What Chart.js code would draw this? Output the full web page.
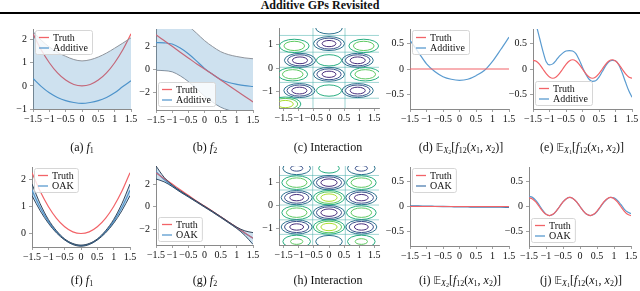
<!DOCTYPE html>
<html>
<head>
<meta charset="utf-8">
<script src="https://cdn.jsdelivr.net/npm/chart.js@4.4.1/dist/chart.umd.min.js"></script>
<style>
body { margin:0; width:640px; height:291px; background:#fff; position:relative; overflow:hidden; font-family:"Liberation Serif", serif; color:#111; }
#title { position:absolute; left:0; width:640px; top:0; text-align:center; font-weight:bold; font-size:12px; line-height:11px; }
#rule { position:absolute; left:0; top:12px; width:640px; height:0; border-top:2.5px solid #000; }
canvas { position:absolute; }
.cap { position:absolute; font-size:12px; white-space:nowrap; transform:translateX(-50%); line-height:12px; }
.cap sub { font-size:8px; vertical-align:-2px; line-height:0; }
.cap .ss { font-size:6px; vertical-align:-1px; }
.bb { font-family:"DejaVu Sans", sans-serif; font-size:10.5px; }
</style>
</head>
<body>
<div id="title">Additive GPs Revisited</div>
<div id="rule"></div>

<canvas id="pa"></canvas><canvas id="pb"></canvas><canvas id="pc"></canvas><canvas id="pd"></canvas><canvas id="pe"></canvas>
<canvas id="pf"></canvas><canvas id="pg"></canvas><canvas id="ph"></canvas><canvas id="pi"></canvas><canvas id="pj"></canvas>

<div class="cap" style="left:82px;top:141px">(a) <i>f</i><sub>1</sub></div>
<div class="cap" style="left:205px;top:141px">(b) <i>f</i><sub>2</sub></div>
<div class="cap" style="left:328px;top:141px">(c) Interaction</div>
<div class="cap" style="left:461px;top:141px">(d) <span class="bb">𝔼</span><sub><i>X</i><span class="ss">2</span></sub>[<i>f</i><sub>12</sub>(<i>x</i><sub>1</sub>, <i>x</i><sub>2</sub>)]</div>
<div class="cap" style="left:582px;top:141px">(e) <span class="bb">𝔼</span><sub><i>X</i><span class="ss">1</span></sub>[<i>f</i><sub>12</sub>(<i>x</i><sub>1</sub>, <i>x</i><sub>2</sub>)]</div>
<div class="cap" style="left:82px;top:274px">(f) <i>f</i><sub>1</sub></div>
<div class="cap" style="left:205px;top:274px">(g) <i>f</i><sub>2</sub></div>
<div class="cap" style="left:328px;top:274px">(h) Interaction</div>
<div class="cap" style="left:460px;top:274px">(i) <span class="bb">𝔼</span><sub><i>X</i><span class="ss">2</span></sub>[<i>f</i><sub>12</sub>(<i>x</i><sub>1</sub>, <i>x</i><sub>2</sub>)]</div>
<div class="cap" style="left:581px;top:274px">(j) <span class="bb">𝔼</span><sub><i>X</i><span class="ss">1</span></sub>[<i>f</i><sub>12</sub>(<i>x</i><sub>1</sub>, <i>x</i><sub>2</sub>)]</div>

<script>
// sample positions
const xGrid = [-1.5,-1.25,-1,-0.75,-0.5,-0.25,0,0.25,0.5,0.75,1,1.25,1.5];
const xFine = [-1.5,-1.4,-1.3,-1.2,-1.1,-1,-0.9,-0.8,-0.7,-0.6,-0.5,-0.4,-0.3,-0.2,-0.1,0,
               0.1,0.2,0.3,0.4,0.5,0.6,0.7,0.8,0.9,1,1.1,1.2,1.3,1.4,1.5];
const xTicks = [-1.5,-1,-0.5,0,0.5,1,1.5];

// f1
const f1Truth = [2.25,1.56,1,0.56,0.25,0.06,0,0.06,0.25,0.56,1,1.56,2.25];
const f1AddMean = [0.32,-0.02,-0.3,-0.5,-0.64,-0.72,-0.76,-0.72,-0.64,-0.5,-0.3,-0.03,0.22];
const f1AddUpper = [2.35,1.98,1.68,1.45,1.28,1.14,1.08,1.13,1.25,1.42,1.63,1.85,2.08];
const f1AddLower = [-1.71,-2.02,-2.28,-2.45,-2.56,-2.58,-2.6,-2.57,-2.53,-2.42,-2.23,-1.91,-1.64];
const f1OakMean = [1.6,0.96,0.45,0.06,-0.22,-0.39,-0.45,-0.39,-0.22,0.06,0.45,0.96,1.6];
const f1OakUpper = [1.83,1.1,0.52,0.1,-0.2,-0.37,-0.43,-0.37,-0.2,0.1,0.52,1.1,1.83];
const f1OakLower = [1.4,0.84,0.38,0.02,-0.24,-0.41,-0.47,-0.41,-0.24,0.02,0.38,0.84,1.4];

// f2
const f2Truth = [3,2.5,2,1.5,1,0.5,0.05,-0.42,-0.9,-1.38,-1.85,-2.33,-2.8];
const f2AddMean = [2.33,2.3,2.2,1.85,1.36,0.75,0.1,-0.42,-0.86,-1.12,-1.28,-1.4,-1.47];
const f2AddUpper = [4.73,4.7,4.6,4.25,3.76,3.15,2.5,1.98,1.54,1.28,1.12,1,0.93];
const f2AddLower = [-0.07,-0.1,-0.2,-0.55,-1.04,-1.65,-2.3,-2.82,-3.26,-3.52,-3.68,-3.8,-3.87];
const f2OakMean = [3.1,2.4,1.85,1.35,0.9,0.45,0,-0.45,-0.92,-1.4,-1.88,-2.35,-2.8];
const f2OakUpper = [3.6,2.6,1.92,1.4,0.94,0.49,0.04,-0.41,-0.88,-1.36,-1.82,-2.15,-2.3];
const f2OakLower = [2.45,2.2,1.78,1.3,0.86,0.41,-0.04,-0.49,-0.96,-1.44,-1.94,-2.55,-3.35];

// E_X2[f12], over x1
const d1Truth = [0,0,0,0,0,0,0,0,0,0,0,0,0];
const d1Add = [0.56,0.33,0.1,-0.05,-0.15,-0.2,-0.22,-0.2,-0.13,-0.03,0.15,0.38,0.62];
const d1Oak = [0.012,0.01,0.006,0.003,0,-0.003,-0.006,-0.008,-0.01,-0.01,-0.01,-0.012,-0.015];

// E_X1[f12], over x2
const d2Truth = [0.17,0.15,0.09,0,-0.09,-0.155,-0.18,-0.155,-0.09,0,0.09,0.155,0.18,0.155,0.09,0,
                 -0.09,-0.155,-0.18,-0.155,-0.09,0,0.09,0.155,0.18,0.155,0.09,0,-0.09,-0.155,-0.18];
const d2Add = [1.05,0.85,0.6,0.35,0.14,0.08,0.1,0.17,0.25,0.31,0.35,0.36,0.35,0.3,0.18,0.03,
               -0.1,-0.2,-0.24,-0.23,-0.16,-0.05,0.06,0.14,0.17,0.16,0.08,-0.07,-0.25,-0.42,-0.55];
const d2Oak = [0.2,0.18,0.12,0.03,-0.07,-0.15,-0.18,-0.16,-0.09,0,0.09,0.155,0.18,0.155,0.09,0,
               -0.09,-0.155,-0.18,-0.16,-0.1,-0.01,0.08,0.15,0.18,0.17,0.12,0.04,-0.05,-0.11,-0.14];

// interaction contours: blob centres and signed peak height (in contour levels)
const addBlobX = [0,0,0,0,0,-1.15,-0.96,-1.2,-0.98,-1.45,1.15,0.95,1.2,0.95];
const addBlobY = [1.72,1.05,0.33,-0.27,-0.97,0.95,0.33,-0.27,-0.97,-1.55,0.95,0.33,-0.27,-0.97];
const addBlobAmp = [-2,-3.4,1.8,-3.4,1.8,2.8,-3.5,2.8,-3.5,3.6,2.8,-3.5,2.8,-3.5];
const addZeroX = [-0.53,0.53];
const addZeroY = [1.4,0.68,0.03,-0.62,-1.3];

const oakBlobX = [-1.07,-1.07,-1.07,-1.07,-1.07,-1.07,0,0,0,0,0,0,1.07,1.07,1.07,1.07,1.07,1.07];
const oakBlobY = [1.62,1,0.35,-0.3,-0.92,-1.55,1.62,1,0.35,-0.3,-0.92,-1.55,1.62,1,0.35,-0.3,-0.92,-1.55];
const oakBlobAmp = [-2.2,2.8,-3.4,2.8,-3.4,2.2,1.4,-3.6,3.6,-3.6,3.6,-2,-2.2,2.8,-3.4,2.8,-3.4,2.2];
const oakZeroX = [-0.54,0.54];
const oakZeroY = [1.31,0.68,0.03,-0.61,-1.24];

const RED = '#f26368';
const BLUE = '#5a9bd0';
const BAND = 'rgba(31,119,180,0.22)';
const levelColors = ['#472d7b','#3b528b','#2c728e','rgba(60,170,165,0.55)','#28ae80','#5ec962','#addc30'];

function pts(xv, yv) {
    return xv.map((x, i) => ({x: x, y: yv[i]}));
}

function tickText(v) {
    return v < 0 ? '\u2212' + Math.abs(v) : String(v);
}

const boxLegend = {
    id: 'boxLegend',
    afterDraw(chart, args, opts) {
        if (!opts.corner) return;
        const ctx = chart.ctx;
        const area = chart.chartArea;
        const items = chart.data.datasets.filter(d => d.label);
        ctx.save();
        ctx.font = '10px "Liberation Serif"';
        const tw = Math.max(...items.map(d => ctx.measureText(d.label).width));
        const w = tw + 22;
        const h = items.length * 10.5 + 3;
        const x = area.left + 2;
        const y = opts.corner === 'tl' ? area.top + 1 : area.bottom - h - 4;
        ctx.beginPath();
        ctx.roundRect(x + 0.5, y + 0.5, w, h, 2);
        ctx.fillStyle = 'rgba(255,255,255,0.8)';
        ctx.fill();
        ctx.strokeStyle = '#d6d6d6';
        ctx.lineWidth = 1;
        ctx.stroke();
        items.forEach((d, i) => {
            const yy = y + 7.5 + i * 10.5;
            ctx.strokeStyle = d.borderColor;
            ctx.lineWidth = 1.3;
            ctx.beginPath();
            ctx.moveTo(x + 4, yy);
            ctx.lineTo(x + 14, yy);
            ctx.stroke();
            ctx.fillStyle = '#111';
            ctx.textBaseline = 'middle';
            ctx.fillText(d.label, x + 18, yy + 0.5);
        });
        ctx.restore();
    }
};

const contourRings = {
    id: 'contourRings',
    afterDatasetsDraw(chart, args, opts) {
        if (!opts.blobX) return;
        const ctx = chart.ctx;
        const area = chart.chartArea;
        const sx = chart.scales.x, sy = chart.scales.y;
        ctx.save();
        ctx.beginPath();
        ctx.rect(area.left, area.top, area.width, area.height);
        ctx.clip();
        ctx.lineWidth = 0.9;
        ctx.strokeStyle = levelColors[3];
        opts.zeroX.forEach(v => {
            const p = sx.getPixelForValue(v);
            ctx.beginPath(); ctx.moveTo(p, area.top); ctx.lineTo(p, area.bottom); ctx.stroke();
        });
        opts.zeroY.forEach(v => {
            const p = sy.getPixelForValue(v);
            ctx.beginPath(); ctx.moveTo(area.left, p); ctx.lineTo(area.right, p); ctx.stroke();
        });
        const rx = Math.abs(sx.getPixelForValue(opts.cellW) - sx.getPixelForValue(0));
        const ry = Math.abs(sy.getPixelForValue(opts.cellH) - sy.getPixelForValue(0));
        ctx.lineWidth = 1;
        opts.blobX.forEach((cx, i) => {
            const amp = opts.blobAmp[i];
            const px = sx.getPixelForValue(cx);
            const py = sy.getPixelForValue(opts.blobY[i]);
            for (let L = 1; L < Math.abs(amp); L++) {
                const f = Math.pow(1 - L / Math.abs(amp), 0.45);
                ctx.strokeStyle = levelColors[3 + Math.sign(amp) * L];
                ctx.beginPath();
                ctx.ellipse(px, py, rx * f, ry * f, 0, 0, 2 * Math.PI);
                ctx.stroke();
            }
        });
        ctx.restore();
    }
};

Chart.register(boxLegend, contourRings);
Chart.defaults.font.family = '"Liberation Serif", serif';
Chart.defaults.font.size = 10;
Chart.defaults.color = '#111';
Chart.defaults.animation = false;

function lineSet(label, xv, yv, color, width) {
    return {label: label, data: pts(xv, yv), borderColor: color, borderWidth: width || 1.2,
            pointRadius: 0, fill: false, cubicInterpolationMode: 'monotone', clip: 0};
}

function bandSets(xv, upper, lower, edge) {
    return [
        {data: pts(xv, upper), borderColor: edge, borderWidth: 1, pointRadius: 0,
         fill: '+1', backgroundColor: BAND, cubicInterpolationMode: 'monotone', clip: 0},
        {data: pts(xv, lower), borderColor: edge, borderWidth: 1, pointRadius: 0,
         fill: false, cubicInterpolationMode: 'monotone', clip: 0}
    ];
}

function makePanel(id, box, xRange, yRange, yTicks, datasets, plugins) {
    const canvas = document.getElementById(id);
    const padL = 34, padT = 6, padR = 8, padB = 16;
    canvas.width = box.r - box.l + padL + padR;
    canvas.height = box.b - box.t + padT + padB;
    canvas.style.left = (box.l - padL) + 'px';
    canvas.style.top = (box.t - padT) + 'px';
    const axisGrid = {drawOnChartArea: false, drawTicks: true, tickLength: 3, color: '#8a8a8a', lineWidth: 0.8};
    new Chart(canvas, {
        type: 'line',
        data: {datasets: datasets},
        options: {
            responsive: false,
            layout: {padding: {left: 0, top: padT, right: padR, bottom: 0}},
            plugins: Object.assign({legend: {display: false}, tooltip: {enabled: false}}, plugins),
            scales: {
                x: {
                    type: 'linear', min: xRange[0], max: xRange[1],
                    grid: axisGrid, border: {display: true, color: '#8a8a8a', width: 1},
                    afterBuildTicks: a => { a.ticks = xTicks.map(v => ({value: v})); },
                    afterFit: s => { s.height = padB; },
                    ticks: {autoSkip: false, maxRotation: 0, padding: 1, callback: tickText}
                },
                y: {
                    min: yRange[0], max: yRange[1],
                    grid: axisGrid, border: {display: true, color: '#8a8a8a', width: 1},
                    afterBuildTicks: a => { a.ticks = yTicks.map(v => ({value: v})); },
                    afterFit: s => { s.width = padL; },
                    ticks: {padding: 3, callback: tickText}
                }
            }
        }
    });
}

document.addEventListener('DOMContentLoaded', function () {
    const greyEdge = '#8f949c';
    const darkEdge = '#34465c';

    makePanel('pa', {l: 33, t: 26, r: 131, b: 109}, [-1.5, 1.5], [-1, 2.46], [-1, 0, 1, 2],
        bandSets(xGrid, f1AddUpper, f1AddLower, greyEdge).concat([
            lineSet('Truth', xGrid, f1Truth, RED),
            lineSet('Additive', xGrid, f1AddMean, BLUE)
        ]), {boxLegend: {corner: 'tl'}});

    makePanel('pb', {l: 156, t: 26, r: 253, b: 110}, [-1.5, 1.5], [-3.5, 3.5], [-2, 0, 2],
        bandSets(xGrid, f2AddUpper, f2AddLower, greyEdge).concat([
            lineSet('Truth', xGrid, f2Truth, RED),
            lineSet('Additive', xGrid, f2AddMean, BLUE)
        ]), {boxLegend: {corner: 'bl'}});

    makePanel('pc', {l: 279, t: 25, r: 379, b: 108}, [-1.655, 1.655], [-1.72, 1.72], [-1, 0, 1],
        [], {contourRings: {blobX: addBlobX, blobY: addBlobY, blobAmp: addBlobAmp,
                            zeroX: addZeroX, zeroY: addZeroY, cellW: 0.6, cellH: 0.35}});

    makePanel('pd', {l: 410, t: 26, r: 509, b: 109}, [-1.5, 1.5], [-0.78, 0.78], [-0.5, 0, 0.5],
        [lineSet('Truth', xGrid, d1Truth, RED), lineSet('Additive', xGrid, d1Add, BLUE)],
        {boxLegend: {corner: 'tl'}});

    makePanel('pe', {l: 533, t: 26, r: 632, b: 109}, [-1.5, 1.5], [-0.78, 0.78], [-0.5, 0, 0.5],
        [lineSet('Truth', xFine, d2Truth, RED), lineSet('Additive', xFine, d2Add, BLUE)],
        {boxLegend: {corner: 'bl'}});

    makePanel('pf', {l: 32, t: 164, r: 130, b: 247}, [-1.5, 1.5], [-0.5, 2.46], [0, 1, 2],
        bandSets(xGrid, f1OakUpper, f1OakLower, darkEdge).concat([
            lineSet('Truth', xGrid, f1Truth, RED),
            lineSet('OAK', xGrid, f1OakMean, BLUE)
        ]), {boxLegend: {corner: 'tl'}});

    makePanel('pg', {l: 156, t: 163, r: 253, b: 245}, [-1.5, 1.5], [-3.4, 3.6], [-2, 0, 2],
        bandSets(xGrid, f2OakUpper, f2OakLower, darkEdge).concat([
            lineSet('Truth', xGrid, f2Truth, RED),
            lineSet('OAK', xGrid, f2OakMean, BLUE)
        ]), {boxLegend: {corner: 'bl'}});

    makePanel('ph', {l: 279, t: 163, r: 379, b: 245}, [-1.655, 1.655], [-1.7, 1.72], [-1, 0, 1],
        [], {contourRings: {blobX: oakBlobX, blobY: oakBlobY, blobAmp: oakBlobAmp,
                            zeroX: oakZeroX, zeroY: oakZeroY, cellW: 0.6, cellH: 0.36}});

    makePanel('pi', {l: 410, t: 164, r: 509, b: 246}, [-1.5, 1.5], [-0.78, 0.78], [-0.5, 0, 0.5],
        [lineSet('Truth', xGrid, d1Truth, RED), lineSet('OAK', xGrid, d1Oak, '#4f7fb0', 1.4)],
        {boxLegend: {corner: 'tl'}});

    makePanel('pj', {l: 529, t: 164, r: 631, b: 246}, [-1.5, 1.5], [-0.78, 0.78], [-0.5, 0, 0.5],
        [lineSet('Truth', xFine, d2Truth, RED), lineSet('OAK', xFine, d2Oak, BLUE)],
        {boxLegend: {corner: 'bl'}});
});
</script>
</body>
</html>
